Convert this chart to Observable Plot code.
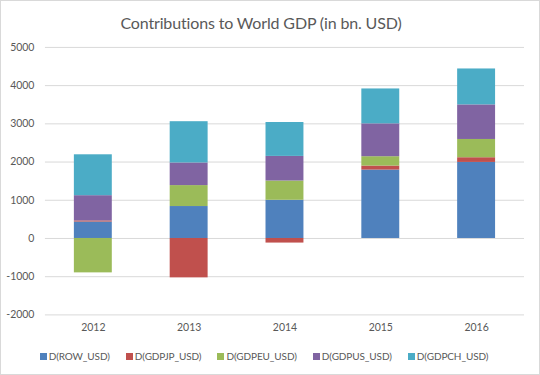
<!DOCTYPE html>
<html>
<head>
<meta charset="utf-8">
<script src="https://cdn.jsdelivr.net/npm/d3@7"></script>
<script src="https://cdn.jsdelivr.net/npm/@observablehq/plot@0.6"></script>
<style>
  html, body { margin: 0; padding: 0; background: #fff; }
  #frame { position: relative; width: 538px; height: 373px; border: 1px solid #d9d9d9; overflow: hidden; font-family: Lato, "Open Sans", sans-serif; }
  #title { position: absolute; left: -10px; top: 12px; width: 540px; text-align: center; font-size: 16px; letter-spacing: -0.15px; color: #595959; }
  #chart { position: absolute; left: -1px; top: -1px; }
  #legend { position: absolute; left: 36px; top: 349px; width: 454px; display: flex; justify-content: center; gap: 16px; font-size: 10px; letter-spacing: -0.1px; color: #595959; }
  #legend .item { display: flex; align-items: center; gap: 2px; }
  #legend .sw { width: 7px; height: 7px; display: inline-block; }
</style>
</head>
<body>
<div id="frame">
  <div id="title">Contributions to World GDP (in bn. USD)</div>
  <div id="chart"></div>
  <div id="legend"></div>
</div>
<script>
const years = ["2012", "2013", "2014", "2015", "2016"];
const seriesNames = ["D(ROW_USD)", "D(GDPJP_USD)", "D(GDPEU_USD)", "D(GDPUS_USD)", "D(GDPCH_USD)"];
const seriesColors = ["#4f81bd", "#c0504d", "#9bbb59", "#8064a2", "#4bacc6"];
const rowUSD = [430, 836, 1000, 1790, 1990];
const jpUSD = [30, -1030, -120, 105, 123];
const euUSD = [-900, 548, 504, 245, 478];
const usUSD = [660, 592, 644, 860, 905];
const chUSD = [1070, 1080, 887, 913, 940];
const yTicks = [-2000, -1000, 0, 1000, 2000, 3000, 4000, 5000];

const seriesValues = [rowUSD, jpUSD, euUSD, usUSD, chUSD];
const data = [];
seriesNames.forEach((name, si) => {
  years.forEach((yr, i) => data.push({year: yr, series: name, value: seriesValues[si][i]}));
});

const plot = Plot.plot({
  width: 540,
  height: 340,
  marginLeft: 45,
  marginRight: 15,
  marginTop: 47,
  marginBottom: 25,
  style: {fontFamily: "Lato, 'Open Sans', sans-serif", fontSize: "10.5px", color: "#595959", background: "transparent"},
  x: {domain: years, paddingInner: 0.6, paddingOuter: 0.3, label: null, tickSize: 0, tickPadding: 9},
  y: {domain: [-2000, 5000], ticks: yTicks, label: null, tickSize: 0, tickPadding: 11, tickFormat: d => String(d).replace("−", "-")},
  color: {domain: seriesNames, range: seriesColors},
  marks: [
    Plot.gridY(yTicks, {stroke: "#d9d9d9", strokeOpacity: 1}),
    Plot.barY(data, Plot.stackY({x: "year", y: "value", fill: "series", z: "series", order: seriesNames}))
  ]
});
document.getElementById("chart").appendChild(plot);

const legend = document.getElementById("legend");
seriesNames.forEach((n, i) => {
  const it = document.createElement("div");
  it.className = "item";
  const sw = document.createElement("span");
  sw.className = "sw";
  sw.style.background = seriesColors[i];
  const tx = document.createElement("span");
  tx.textContent = n;
  it.appendChild(sw); it.appendChild(tx);
  legend.appendChild(it);
});
</script>
</body>
</html>
